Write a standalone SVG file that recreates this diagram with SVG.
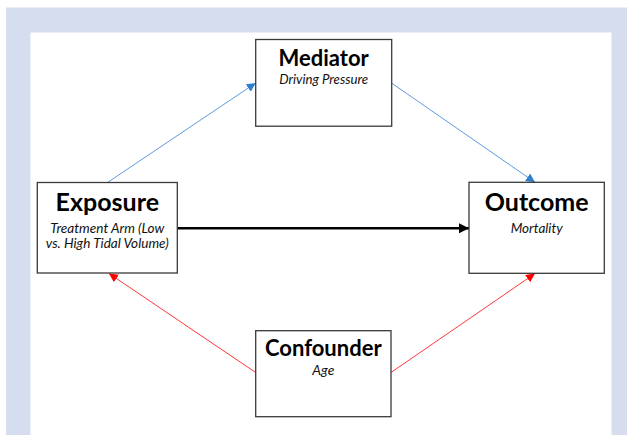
<svg xmlns="http://www.w3.org/2000/svg" width="627" height="435" viewBox="0 0 627 435">
<style>
.box{fill:#fff;stroke:#3a3a3a;stroke-width:1.3}
.title{font-family:Lato,"Liberation Sans",sans-serif;font-weight:bold;fill:#000;text-anchor:middle}
.sub{font-family:Lato,"Liberation Sans",sans-serif;font-style:italic;font-size:13.5px;fill:#111;text-anchor:middle}
.blue{stroke:#4a90d9;stroke-width:0.9;fill:none}
.red{stroke:#ff2020;stroke-width:0.9;fill:none}
.black{stroke:#000;stroke-width:2.6;fill:none}
</style>
<defs>
<marker id="ab" viewBox="0 0 10 10" refX="10" refY="5" markerWidth="9" markerHeight="9" markerUnits="userSpaceOnUse" orient="auto"><path d="M0,0 L10,5 L0,10 z" fill="#2f7fd0"/></marker>
<marker id="ar" viewBox="0 0 10 10" refX="10" refY="5" markerWidth="9" markerHeight="9" markerUnits="userSpaceOnUse" orient="auto"><path d="M0,0 L10,5 L0,10 z" fill="#ff0000"/></marker>
<marker id="ak" viewBox="0 0 10 10" refX="10" refY="5" markerWidth="10" markerHeight="10" markerUnits="userSpaceOnUse" orient="auto"><path d="M0,0 L10,5 L0,10 z" fill="#000"/></marker>
</defs>
<rect x="0" y="0" width="627" height="435" fill="#fff"/>
<rect x="6" y="7.5" width="621" height="427.5" fill="#d5ddee"/>
<rect x="30.5" y="32.5" width="581" height="402.5" fill="#fff"/>
<g id="connectors">
<line class="blue" x1="107.5" y1="182.5" x2="255.7" y2="83" marker-end="url(#ab)"/>
<line class="blue" x1="391.5" y1="83" x2="535" y2="182.3" marker-end="url(#ab)"/>
<line class="black" x1="177.5" y1="228.3" x2="469" y2="228.3" marker-end="url(#ak)"/>
<line class="red" x1="255.7" y1="372.5" x2="109" y2="273.5" marker-end="url(#ar)"/>
<line class="red" x1="391" y1="372.5" x2="535" y2="273.5" marker-end="url(#ar)"/>
</g>
<g id="mediator">
<rect class="box" x="255.7" y="39.5" width="136" height="86.7"/>
<text class="title" x="323.7" y="66" font-size="22">Mediator</text>
<text class="sub" x="323.7" y="84" textLength="89" lengthAdjust="spacingAndGlyphs">Driving Pressure</text>
</g>
<g id="exposure">
<rect class="box" x="37.3" y="182.5" width="140" height="90.5"/>
<text class="title" x="107.3" y="210.7" font-size="25">Exposure</text>
<text class="sub" x="107.3" y="232.7" textLength="114" lengthAdjust="spacingAndGlyphs">Treatment Arm (Low</text>
<text class="sub" x="107.3" y="247.7" textLength="123" lengthAdjust="spacingAndGlyphs">vs. High Tidal Volume)</text>
</g>
<g id="outcome">
<rect class="box" x="469" y="182.3" width="135.3" height="91"/>
<text class="title" x="536.7" y="210.7" font-size="25">Outcome</text>
<text class="sub" x="536.7" y="232.7" textLength="52" lengthAdjust="spacingAndGlyphs">Mortality</text>
</g>
<g id="confounder">
<rect class="box" x="255.7" y="330.7" width="135.3" height="86"/>
<text class="title" x="323.3" y="356" font-size="22">Confounder</text>
<text class="sub" x="323.3" y="375" textLength="22" lengthAdjust="spacingAndGlyphs">Age</text>
</g>
</svg>
